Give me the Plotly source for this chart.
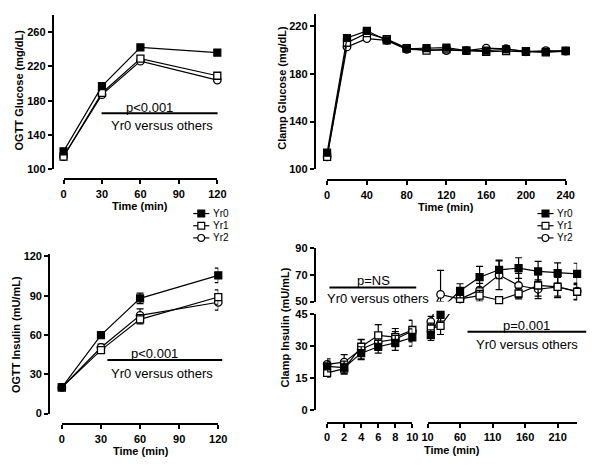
import plotly.graph_objects as go

W, H = 603, 470
def px(x): return x / W
def py(y): return 1 - y / H

FONT = "Liberation Sans, Arial, sans-serif"

# ---------------- data ----------------
series = ["Yr0", "Yr1", "Yr2"]

ogtt_time = [0, 30, 60, 120]
ogtt_glucose = {
    "Yr0": [121, 197, 242, 236],
    "Yr1": [115, 189, 229, 209],
    "Yr2": [115, 187, 226, 204],
}

clamp_glu_time = [0, 20, 40, 60, 80, 100, 120, 140, 160, 180, 200, 220, 240]
clamp_glucose = {
    "Yr0": [114, 210, 216, 208, 201, 201.5, 202, 199.5, 199.5, 200.5, 199, 198.5, 199.5],
    "Yr1": [110.5, 206, 214, 209, 201.5, 199.5, 200.5, 199.5, 198.5, 199, 198.5, 198, 199],
    "Yr2": [110.5, 202.5, 209.5, 208, 200.5, 200, 199.5, 199.5, 201.5, 201, 198.5, 199.5, 199],
}

ogtt_insulin = {
    "Yr0": [20, 60, 88, 105.5],
    "Yr1": [20, 48.5, 72, 89],
    "Yr2": [20, 50.5, 75, 85],
}
ogtt_insulin_err = {
    "Yr0": [1.5, 2.5, 4, 5.5],
    "Yr1": [1.5, 2.5, 3.5, 5.5],
    "Yr2": [1.5, 2.5, 5, 6],
}

clamp_ins_early_time = [0, 2, 4, 6, 8, 10]
clamp_ins_early = {
    "Yr0": [20.5, 20, 26.7, 29.7, 31.5, 34],
    "Yr1": [17.5, 19.5, 29.7, 35, 34.2, 37.5],
    "Yr2": [21.5, 22.5, 28.5, 32, 33.2, 37],
}
clamp_ins_early_err = {
    "Yr0": [2.5, 3, 3, 3, 3.5, 4],
    "Yr1": [2, 2.5, 3.5, 5, 4, 4.5],
    "Yr2": [2.5, 3.5, 4.5, 4, 3.5, 5],
}
clamp_ins_late_time = [15, 30, 60, 90, 120, 150, 180, 210, 240]
clamp_ins_late = {
    "Yr0": [35.1, 44.6, 58, 68.2, 73.7, 75, 72.5, 71.3, 70.6],
    "Yr1": [38.2, 39.4, 52, 54.4, 51, 56, 62, 61, 57.3],
    "Yr2": [41.4, 55.3, 51.9, 58.5, 69.9, 62, 59.2, 61, 57.7],
}
clamp_ins_late_err = {
    "Yr0": [2.5, 3, 5.3, 8, 6.6, 7.7, 7.5, 7.5, 8],
    "Yr1": [2.5, 4, 3, 4, 2.5, 4, 8, 7, 6],
    "Yr2": [2.5, 18, 3, 5, 11, 9, 7, 8, 6],
}

lower_range = [0, 45]
upper_range = [50, 90]

# ---------------- styles ----------------
marker_cfg = {
    "Yr0": dict(symbol="square", color="black", size=7, line=dict(color="black", width=1.2)),
    "Yr1": dict(symbol="square", color="white", size=7, line=dict(color="black", width=1.3)),
    "Yr2": dict(symbol="circle", color="white", size=7.5, line=dict(color="black", width=1.3)),
}
LINE = dict(color="black", width=1.2)
draw_order = ["Yr2", "Yr1", "Yr0"]

def err(plus, minus=None):
    d = dict(type="data", array=plus, color="black", thickness=1.2, width=3.5, visible=True)
    if minus is not None:
        d["arrayminus"] = minus
        d["symmetric"] = False
    return d

fig = go.Figure()

# Top-left: OGTT glucose
for s in draw_order:
    fig.add_trace(go.Scatter(x=ogtt_time, y=ogtt_glucose[s], mode="lines+markers",
                             line=LINE, marker=marker_cfg[s], cliponaxis=False,
                             xaxis="x", yaxis="y", name=s))
# Top-right: clamp glucose
for s in draw_order:
    fig.add_trace(go.Scatter(x=clamp_glu_time, y=clamp_glucose[s], mode="lines+markers",
                             line=LINE, marker=marker_cfg[s], cliponaxis=False,
                             xaxis="x2", yaxis="y2", name=s))
# Bottom-left: OGTT insulin
for s in draw_order:
    fig.add_trace(go.Scatter(x=ogtt_time, y=ogtt_insulin[s], mode="lines+markers",
                             line=LINE, marker=marker_cfg[s], cliponaxis=False,
                             error_y=err(ogtt_insulin_err[s]),
                             xaxis="x3", yaxis="y3", name=s))
# Bottom-right: clamp insulin, broken axes
for s in draw_order:
    fig.add_trace(go.Scatter(x=clamp_ins_early_time, y=clamp_ins_early[s], mode="lines+markers",
                             line=LINE, marker=marker_cfg[s], cliponaxis=False,
                             error_y=err(clamp_ins_early_err[s]),
                             xaxis="x4", yaxis="y4", name=s))
for yax, (lo, hi) in (("y4", lower_range), ("y5", upper_range)):
    for s in draw_order:
        # connecting lines (clipped by the subplot)
        fig.add_trace(go.Scatter(x=clamp_ins_late_time, y=clamp_ins_late[s], mode="lines",
                                 line=LINE, xaxis="x5", yaxis=yax, hoverinfo="skip", name=s))
    for s in draw_order:
        xs, ys, ep, em = [], [], [], []
        for t, v, e in zip(clamp_ins_late_time, clamp_ins_late[s], clamp_ins_late_err[s]):
            if lo <= v <= hi:
                xs.append(t); ys.append(v)
                ep.append(min(e, hi - v)); em.append(min(e, v - lo))
        fig.add_trace(go.Scatter(x=xs, y=ys, mode="markers", marker=marker_cfg[s],
                                 cliponaxis=False, error_y=err(ep, em),
                                 xaxis="x5", yaxis=yax, name=s))

# ---------------- axes ----------------
TICKFONT = dict(family=FONT, size=11, color="black", weight="bold")
def ax(domain, rng, pos, tickvals):
    return dict(domain=domain, range=rng, anchor="free", position=pos, tickvals=tickvals,
                showline=True, linecolor="black", linewidth=2, ticks="outside", ticklen=4,
                tickwidth=2, tickcolor="black", showgrid=False, zeroline=False,
                tickfont=TICKFONT, fixedrange=True)

fig.update_layout(
    xaxis=ax([px(59), px(216.7)], [0, 120], py(178), [0, 30, 60, 90, 120]),
    yaxis=ax([py(167.7), py(9)], [100, 280], px(48), [100, 140, 180, 220, 260]),
    xaxis2=ax([px(329.3), px(574)], [0, 240], py(179), [0, 40, 80, 120, 160, 200, 240]),
    yaxis2=ax([py(167.7), py(8.3)], [100, 230], px(316.7), [100, 140, 180, 220]),
    xaxis3=ax([px(57.3), px(217.7)], [0, 120], py(429.3), [0, 30, 60, 90, 120]),
    yaxis3=ax([py(418.3), py(254.3)], [0, 122], px(44.3), [0, 30, 60, 90, 120]),
    xaxis4=ax([px(329.3), px(416.7)], [0, 10], py(427.5), [0, 2, 4, 6, 8, 10]),
    xaxis5=ax([px(432.3), px(585.7)], [10, 240], py(427.5), [10, 60, 110, 160, 210]),
    yaxis4=ax([py(415), py(316)], lower_range, px(316.7), [0, 15, 30, 45]),
    yaxis5=ax([py(303.3), py(248.3)], upper_range, px(316.7), [50, 70, 90]),
)

annotations = []
shapes = []

def text(x, y, s, size=13, bold=False, angle=0, xanchor="center"):
    annotations.append(dict(x=px(x), y=py(y), xref="paper", yref="paper",
                            text=f"<b>{s}</b>" if bold else s, showarrow=False,
                            textangle=angle, xanchor=xanchor, yanchor="middle",
                            font=dict(family=FONT, size=size, color="black")))

def hline(x0, x1, y, w=2):
    shapes.append(dict(type="line", xref="paper", yref="paper", x0=px(x0), x1=px(x1),
                       y0=py(y), y1=py(y), line=dict(color="black", width=w)))

# axis titles
text(137.5, 205, "Time (min)", 11, True)
text(451.7, 206.5, "Time (min)", 11, True)
text(138.3, 457, "Time (min)", 11, True)
text(457, 456, "Time (min)", 11, True)
text(13, 86, "OGTT Glucose (mg/dL)", 11, True, -90)
text(283, 84, "Clamp Glucose (mg/dL)", 11, True, -90)
text(11, 337, "OGTT Insulin (mU/mL)", 11, True, -90)
text(286, 330, "Clamp Insulin (mU/mL)", 11, True, -90)

# significance annotations
hline(98, 217, 110)
text(146.7, 103.7, "p&lt;0.001")
text(160, 122.3, "Yr0 versus others")

hline(104, 221.7, 363.3)
text(152.7, 356.3, "p&lt;0.001")
text(160.3, 376.7, "Yr0 versus others")

hline(331.7, 420.7, 289)
text(376.7, 282, "p=NS")
text(381.3, 300.5, "Yr0 versus others")

hline(473.3, 595, 334.3)
text(533.3, 327.7, "p=0.001")
text(534.7, 347, "Yr0 versus others")

# legends (two, drawn as line + marker + label)
legend_rows = [213, 225.5, 238]
for lx in (192, 545):
    for s, ly in zip(series, legend_rows):
        hline(lx, lx + 16.5, ly, 1.2)
        cx = lx + 8.25
        r = 3.5
        kind = "circle" if marker_cfg[s]["symbol"] == "circle" else "rect"
        shapes.append(dict(type=kind, xref="paper", yref="paper",
                           x0=px(cx - r), x1=px(cx + r), y0=py(ly + r), y1=py(ly - r),
                           fillcolor=marker_cfg[s]["color"], line=dict(color="black", width=1.2)))
        text(lx + 18.5, ly, s, 10, False, 0, "left")

fig.update_layout(
    width=W, height=H, margin=dict(l=0, r=0, t=0, b=0),
    paper_bgcolor="white", plot_bgcolor="white", showlegend=False,
    annotations=annotations, shapes=shapes,
    font=dict(family=FONT, color="black"),
)

fig.write_html("out.html", config={"displayModeBar": False},
               post_script="document.body.style.margin='0';document.body.style.overflow='hidden';")
